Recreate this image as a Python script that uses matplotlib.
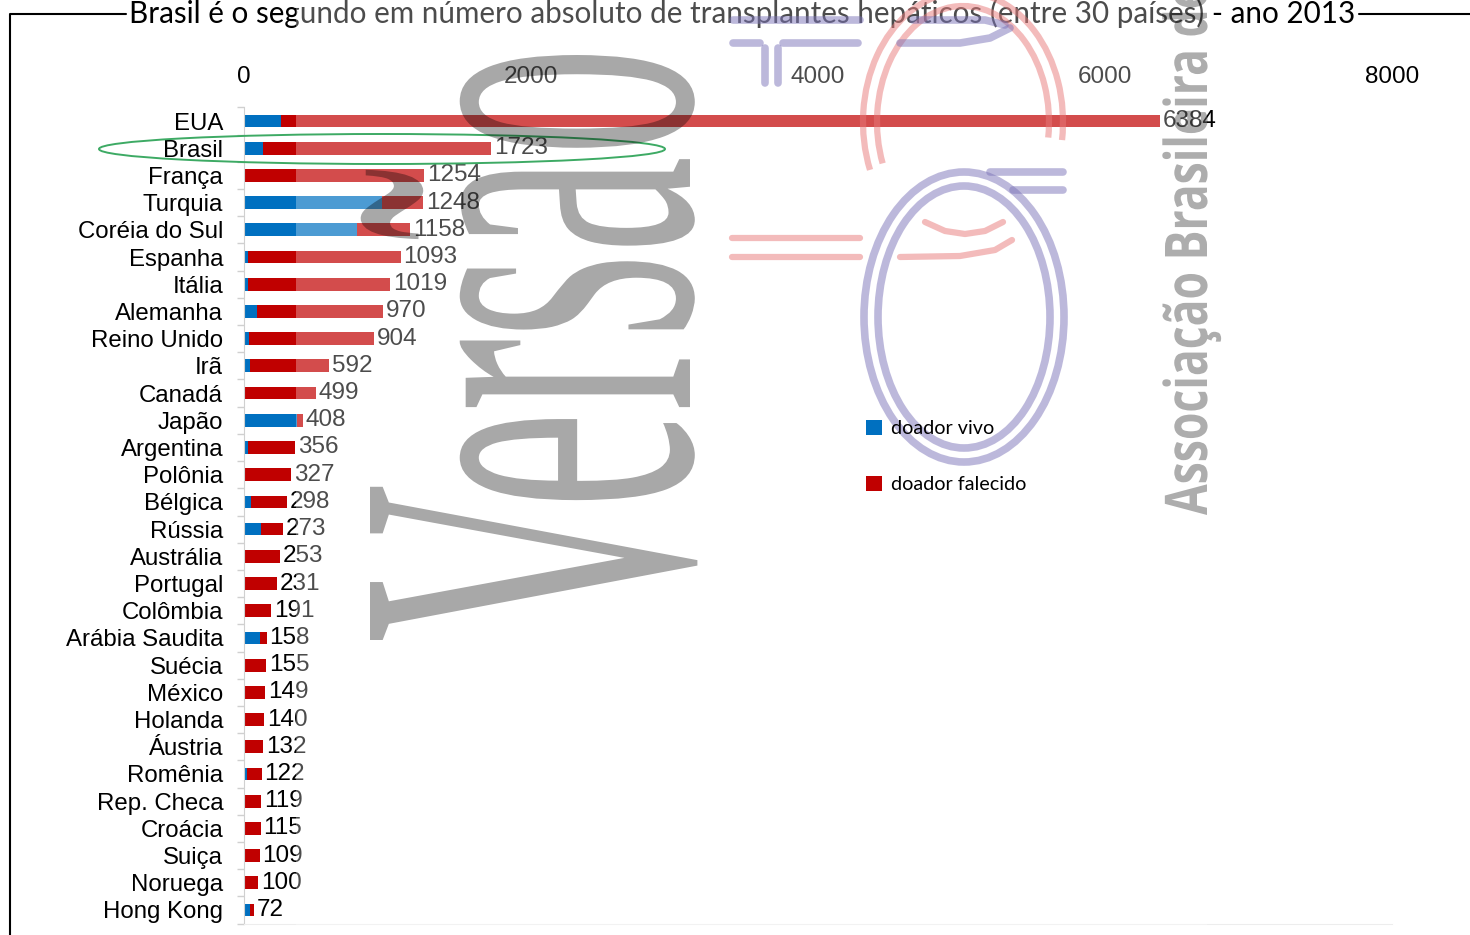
import numpy as np
import matplotlib
matplotlib.use("Agg")
import matplotlib.pyplot as plt
from matplotlib.patches import Patch, Ellipse, Arc, Rectangle, PathPatch
from matplotlib.lines import Line2D
from matplotlib.textpath import TextPath
from matplotlib.font_manager import FontProperties
from matplotlib.transforms import Affine2D

# dados (transplantes hepáticos 2013)
paises = ["EUA", "Brasil", "França", "Turquia", "Coréia do Sul", "Espanha", "Itália",
          "Alemanha", "Reino Unido", "Irã", "Canadá", "Japão", "Argentina", "Polônia",
          "Bélgica", "Rússia", "Austrália", "Portugal", "Colômbia", "Arábia Saudita",
          "Suécia", "México", "Holanda", "Áustria", "Romênia", "Rep. Checa", "Croácia",
          "Suiça", "Noruega", "Hong Kong"]
total = [6384, 1723, 1254, 1248, 1158, 1093, 1019, 970, 904, 592, 499, 408, 356, 327,
         298, 273, 253, 231, 191, 158, 155, 149, 140, 132, 122, 119, 115, 109, 100, 72]
vivo = [256, 135, 0, 960, 785, 28, 25, 88, 37, 42, 0, 367, 30, 0,
        47, 118, 0, 0, 5, 111, 0, 0, 0, 0, 18, 0, 0, 0, 0, 42]
falecido = [t - v for t, v in zip(total, vivo)]
xticks = [0, 2000, 4000, 6000, 8000]

titulo = "Brasil é o segundo em número absoluto de transplantes hepáticos (entre 30 países) - ano 2013"

AZUL = "#0070C0"
VERMELHO = "#C00000"

W, H, DPI = 1470, 935, 100

plt.rcParams["font.family"] = ["Liberation Sans", "DejaVu Sans"]


def fpx(x, y):
    # pixel (topo-esquerda) -> fração da figura
    return x / W, 1 - y / H


def fig_line(fig, pts, color, lw, alpha=1.0, z=4):
    xs = [p[0] / W for p in pts]
    ys = [1 - p[1] / H for p in pts]
    fig.add_artist(Line2D(xs, ys, transform=fig.transFigure, color=color, lw=lw,
                          alpha=alpha, solid_capstyle="round", zorder=z))


def texto_esticado(fig, s, x0, y0, comprimento, altura, family, weight, alpha, z):
    prop = FontProperties(family=family, weight=weight)
    tp = TextPath((0, 0), s, size=100, prop=prop)
    ext = tp.get_extents()
    cap = TextPath((0, 0), "H", size=100, prop=prop).get_extents().height
    sx = comprimento / ext.width
    sy = altura / cap
    tr = (Affine2D().translate(-ext.x0, 0).scale(sx, sy).rotate_deg(90)
          .translate(x0, H - y0).scale(1.0 / DPI) + fig.dpi_scale_trans)
    fig.add_artist(PathPatch(tp, transform=tr, facecolor="black", edgecolor="none",
                             alpha=alpha, zorder=z))


fig = plt.figure(figsize=(W / DPI, H / DPI), dpi=DPI)
ax = fig.add_axes([244 / W, 1 - 923.6 / H, (1392 - 244) / W, (923.6 - 107.4) / H])

y = np.arange(len(paises))
ax.barh(y, vivo, height=0.47, color=AZUL, zorder=2)
barras = ax.barh(y, falecido, left=vivo, height=0.47, color=VERMELHO, zorder=2)
ax.bar_label(barras, labels=[str(t) for t in total], padding=2,
             fontsize=17.5, color="black")

ax.set_xlim(0, 8000)
ax.set_ylim(len(paises) - 0.5, -0.5)
ax.set_xticks(xticks)
ax.set_xticklabels([str(t) for t in xticks], fontsize=17.5)
ax.xaxis.tick_top()
ax.tick_params(axis="x", length=0, pad=14)
ax.set_yticks(y)
ax.set_yticklabels(paises, fontsize=17.3)
ax.set_yticks(np.arange(-0.5, len(paises), 1), minor=True)
ax.tick_params(axis="y", which="major", length=0, pad=15)
ax.tick_params(axis="y", which="minor", length=5, color="#D0D0D0", width=1)
for s in ["top", "right"]:
    ax.spines[s].set_visible(False)
ax.spines["left"].set_color("#D0D0D0")
ax.spines["bottom"].set_color("#EDEDED")

# legenda
handles = [Patch(facecolor=AZUL, label="doador vivo"),
           Patch(facecolor=VERMELHO, label="doador falecido")]
fig.legend(handles=handles, loc="upper left", bbox_to_anchor=fpx(866, 420),
           frameon=False, prop=FontProperties(family="Lato", size=14.2),
           labelspacing=1.95, handlelength=0.8, handleheight=0.8,
           handletextpad=0.45, borderpad=0, borderaxespad=0)

# título com moldura
fig.text(*fpx(742, 13), titulo, ha="center", va="center", fontsize=21.3,
         family="Lato", color="black", zorder=1)
fig_line(fig, [(10, 935), (10, 14), (126, 14)], "black", 1.5, z=1)
fig_line(fig, [(1359, 14), (1470, 14)], "black", 1.5, z=1)

# véu branco semitransparente sobre a parte central
fig.add_artist(Rectangle(fpx(296, 935), (1207 - 296) / W, 1.0,
                         transform=fig.transFigure, facecolor="white",
                         edgecolor="none", alpha=0.3, zorder=2))

# destaque do Brasil
fig.add_artist(Ellipse(fpx(382, 149), 566 / W, 30 / H, transform=fig.transFigure,
                       fill=False, edgecolor="#3DAA64", lw=1.4, zorder=5))

# marca d'água: logotipo
LAV = "#7B73B8"
ROSA = "#E87878"
for w_, h_ in [(200, 290), (172, 262)]:
    fig.add_artist(Ellipse(fpx(964, 317), w_ / W, h_ / H, transform=fig.transFigure,
                           fill=False, edgecolor=LAV, lw=5.5, alpha=0.5, zorder=4))
for w_, h_ in [(200, 260), (172, 232)]:
    fig.add_artist(Arc(fpx(963, 122), w_ / W, h_ / H, theta1=-16, theta2=219,
                       transform=fig.transFigure, edgecolor=ROSA, lw=4.5,
                       alpha=0.5, zorder=4))
fig_line(fig, [(990, 172), (1063, 172)], LAV, 5.5, 0.5)
fig_line(fig, [(1013, 190), (1063, 190)], LAV, 5.5, 0.5)
fig_line(fig, [(733, 20), (860, 20)], LAV, 5.5, 0.5)
fig_line(fig, [(733, 43), (760, 43)], LAV, 5.5, 0.5)
fig_line(fig, [(783, 43), (858, 43)], LAV, 5.5, 0.5)
fig_line(fig, [(765, 48), (765, 83)], LAV, 5.5, 0.5)
fig_line(fig, [(778, 48), (778, 83)], LAV, 5.5, 0.5)
fig_line(fig, [(913, 20), (985, 20), (1005, 25)], LAV, 5.5, 0.5)
fig_line(fig, [(900, 43), (960, 43), (990, 38), (1010, 28)], LAV, 5.5, 0.5)
fig_line(fig, [(732, 238), (860, 238)], ROSA, 4.5, 0.5)
fig_line(fig, [(732, 257), (860, 257)], ROSA, 4.5, 0.5)
fig_line(fig, [(900, 257), (960, 256), (995, 250), (1012, 240)], ROSA, 4.5, 0.5)
fig_line(fig, [(925, 222), (945, 231), (965, 234), (985, 231), (1003, 222)], ROSA, 4.5, 0.5)

# marcas d'água de texto
texto_esticado(fig, "Versão", 690, 640, 585, 320, "Liberation Serif", "normal", 0.34, 6)
texto_esticado(fig, "Associação Brasileira de", 1207, 515, 530, 42, "Open Sans", "bold", 0.32, 6)

fig.savefig("out.png", dpi=DPI)
